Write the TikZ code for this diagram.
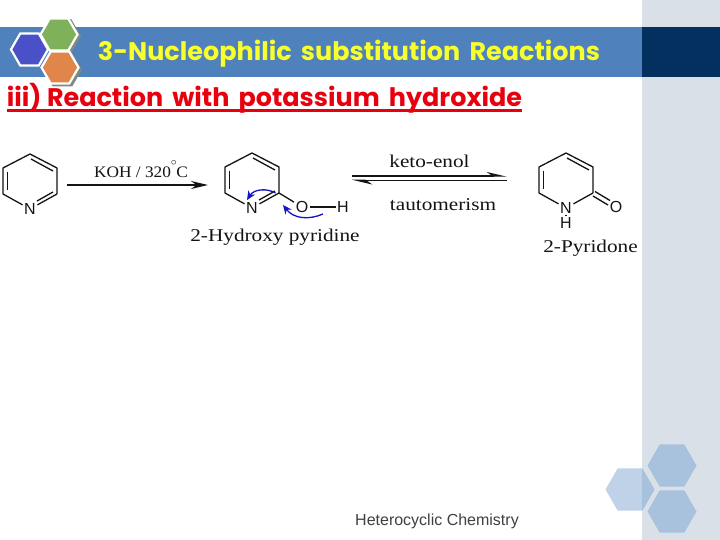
\documentclass[tikz,border=0pt]{standalone}
\usepackage{fontspec}
\setmainfont{Liberation Serif}
\newfontfamily\hdfont{Poppins}
\newfontfamily\lbfont{Liberation Sans}
\usetikzlibrary{arrows.meta,calc,shapes.geometric}
\definecolor{band}{HTML}{4F81BD}
\definecolor{navy}{HTML}{03305F}
\definecolor{panel}{HTML}{D9E0E8}
\definecolor{hexd}{HTML}{A8C1DD}
\definecolor{hexl}{HTML}{BFD2E8}
\definecolor{chem}{HTML}{141414}
\definecolor{curly}{HTML}{1414C4}
\definecolor{hexgreen}{HTML}{7FB05A}
\definecolor{hexblue}{HTML}{4A50C8}
\definecolor{hexorange}{HTML}{E0864A}
\definecolor{shade}{HTML}{7F8A80}
\definecolor{titley}{HTML}{F8FF2A}
\definecolor{subred}{HTML}{E8000F}
\newcommand{\wide}[2]{\scalebox{#1}[1]{#2}}
\tikzset{
  hexshape/.style={regular polygon,regular polygon sides=6,inner sep=0pt,minimum size=#1},
  logohex/.style={hexshape=37pt,draw=white,line width=2.2pt},
  bond/.style={draw=chem,line width=1.3pt},
  atom/.style={font=\lbfont\fontsize{16}{16}\selectfont,text=chem,inner sep=1.5pt},
  chemtxt/.style={font=\fontsize{18}{18}\selectfont,text=chem,inner sep=0pt},
  rxn/.style={draw=chem,line width=1.5pt},
  curved/.style={draw=curly,line width=1.3pt,-{Stealth[length=9pt,width=8pt]}},
}
\newcommand{\pyr}[3]{%
  \begin{scope}[shift={(#1,#2)},name prefix=#3-]
    \coordinate (a) at (0,0);
    \coordinate (b) at (27,14);
    \coordinate (c) at (27,40);
    \coordinate (e) at (-27,40);
    \coordinate (f) at (-27,14);
    \coordinate (li) at (-22.5,18);
    \coordinate (lj) at (-22.5,36);
    \coordinate (ui) at (1,5);
    \coordinate (uj) at (23,17);
    \coordinate (ci) at (23,38);
    \coordinate (cj) at (7,47);
    \node[atom] (n) at (0,55) {N};
    \draw[bond,line join=round] (n) -- (e) -- (f) -- (a) -- (b) -- (c);
    \draw[bond] (li) -- (lj);
    \draw[bond] (ui) -- (uj);
  \end{scope}}
\begin{document}
\begin{tikzpicture}[x=1pt,y=-1pt]
\useasboundingbox (0,0) rectangle (720,540);
\fill[white] (0,0) rectangle (720,540);
\fill[panel] (642,0) rectangle (720,540);
\fill[band] (0,27) rectangle (642,77);
\fill[navy] (642,27) rectangle (720,77);
% footer hexagons
\node[hexshape=49pt,fill=hexl] (hl) at (630,489.5) {};
\begin{scope}
  \clip (642,440) rectangle (720,540);
  \node[hexshape=49pt,fill=hexd] (hlb) at (630,489.5) {};
\end{scope}
\node[hexshape=49pt,fill=hexd] (ht) at (672,465.5) {};
\node[hexshape=49pt,fill=hexd] (hb) at (672,511.5) {};
% logo hexagons
\node[hexshape=39pt,fill=shade] (sg) at (61.5,36) {};
\node[hexshape=39pt,fill=shade] (so) at (62.5,69.5) {};
\node[logohex,fill=hexblue] (hblue) at (29.5,49.5) {};
\node[logohex,fill=hexgreen] (hg) at (59,34.5) {};
\node[logohex,fill=hexorange] (ho) at (60,67.5) {};
% headings
\node[font=\hdfont\bfseries\fontsize{21}{21}\selectfont,text=titley,inner sep=0pt,anchor=center] (title) at (349,54) {\resizebox{502pt}{!}{3-Nucleophilic\hspace{.15em} substitution\hspace{.15em} Reactions}};
\node[font=\hdfont\bfseries\fontsize{21}{21}\selectfont,text=subred,inner sep=0pt] (sub) at (264.5,98.5) {\resizebox{515pt}{!}{iii) Reaction\hspace{.15em} with\hspace{.15em} potassium\hspace{.15em} hydroxide}};
\coordinate (ula) at (7,110.5);
\coordinate (ulb) at (522,110.5);
\draw[subred,line width=2.4pt] (ula) -- (ulb);
% pyridine
\pyr{30}{154}{p}
\draw[bond] (p-c) -- (p-n);
\draw[bond] (p-ci) -- (p-cj);
% arrow 1
\coordinate (a1s) at (67,185);
\coordinate (a1e) at (208,185);
\draw[rxn,-{Stealth[length=17pt,width=8pt]}] (a1s) -- (a1e);
\node[chemtxt,font=\fontsize{16}{16}\selectfont] (koh) at (141,169) {\wide{1.08}{KOH / 320\raisebox{6pt}{$^{\circ}$}\kern-1pt C}};
% hydroxy pyridine
\pyr{252}{153}{h}
\draw[bond] (h-c) -- (h-n);
\draw[bond] (h-ci) -- (h-cj);
\node[atom] (hO) at (302,207) {O};
\node[atom] (hH) at (343,207) {H};
\draw[bond] (h-c) -- (hO);
\draw[bond] (hO) -- (hH);
\coordinate (c1s) at (275.5,193);
\coordinate (c1e) at (247,200);
\coordinate (c2s) at (323,214);
\coordinate (c2e) at (283,205);
\draw[curved] (c1s) .. controls (267,188) and (254,189) .. (c1e);
\draw[curved] (c2s) .. controls (309,220) and (294,219) .. (c2e);
\node[chemtxt] (lab1) at (275,237) {\wide{1.18}{2-Hydroxy pyridine}};
% equilibrium
\coordinate (e1s) at (352,176);
\coordinate (e1e) at (507,176);
\coordinate (e2s) at (507,180.5);
\coordinate (e2e) at (352,180.5);
\draw[rxn,-{Stealth[harpoon,length=17pt,width=8pt]}] (e1s) -- (e1e);
\draw[rxn,-{Stealth[harpoon,length=17pt,width=8pt]}] (e2s) -- (e2e);
\node[chemtxt] (keto) at (429.5,161.5) {\wide{1.18}{keto-enol}};
\node[chemtxt] (taut) at (443,204.5) {\wide{1.18}{tautomerism}};
% pyridone
\pyr{566}{153}{d}
\node[atom] (dH) at (566,222.5) {H};
\node[atom] (dO) at (616,207) {O};
\coordinate (do1) at (593,196);
\coordinate (do2) at (608,205);
\coordinate (do3) at (595,191.5);
\coordinate (do4) at (610,200.5);
\draw[bond] (d-c) -- (d-n);
\draw[bond] (d-n) -- (dH);
\draw[bond] (do1) -- (do2);
\draw[bond] (do3) -- (do4);
\node[chemtxt] (lab2) at (590.5,248) {\wide{1.18}{2-Pyridone}};
% footer
\node[font=\lbfont\fontsize{16}{16}\selectfont,text=black!75,inner sep=0pt] (foot) at (437,521.5) {Heterocyclic Chemistry};
\end{tikzpicture}
\end{document}
